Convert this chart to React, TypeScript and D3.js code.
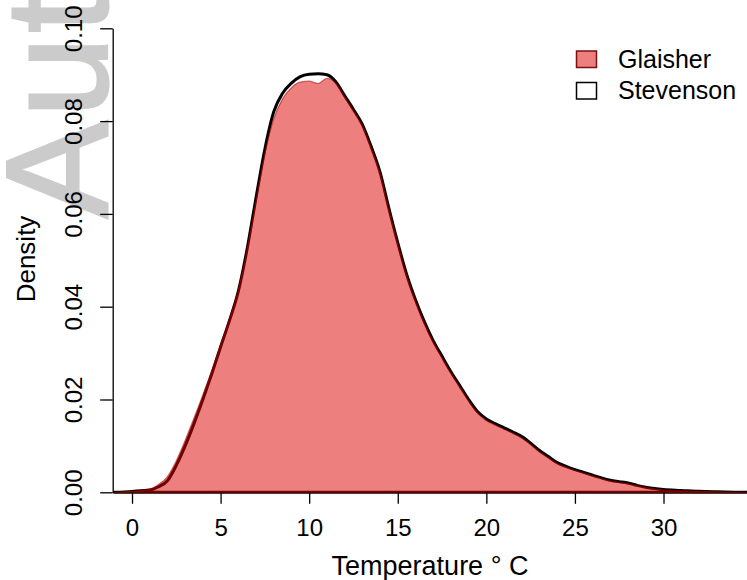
import React, { useRef, useEffect } from 'react'
import * as d3 from 'd3'

// temperature grid (°C) and density readings for the two series
const temps = [-1, 0, 1, 1.5, 2, 2.5, 3, 3.5, 4, 4.5, 5, 5.5, 6, 6.5, 7, 7.5, 8, 8.5, 9, 9.5, 10, 10.5, 11, 11.5, 12, 12.5, 13, 13.5, 14, 14.5, 15, 15.5, 16, 16.5, 17, 17.5, 18, 18.5, 19, 19.5, 20, 20.5, 21, 21.5, 22, 22.5, 23, 23.5, 24, 24.5, 25, 25.5, 26, 26.5, 27, 27.5, 28, 28.5, 29, 29.5, 30, 31, 32, 33, 34.7]

const stevenson = [0, 0.0002, 0.0005, 0.0012, 0.0025, 0.0058, 0.0100, 0.0148, 0.0200, 0.0255, 0.0313, 0.0370, 0.0433, 0.0525, 0.0635, 0.0740, 0.0820, 0.0860, 0.0882, 0.0896, 0.0901, 0.0902, 0.0900, 0.0885, 0.0855, 0.0825, 0.0793, 0.0745, 0.0690, 0.0612, 0.0538, 0.0470, 0.0415, 0.0368, 0.0327, 0.0293, 0.0260, 0.0230, 0.0200, 0.0174, 0.0158, 0.0148, 0.0139, 0.0130, 0.0120, 0.0106, 0.0090, 0.0077, 0.0064, 0.0056, 0.0049, 0.0043, 0.0037, 0.0031, 0.0026, 0.0023, 0.0020, 0.0015, 0.0011, 0.0008, 0.0006, 0.0004, 0.0002, 0.0001, 0]

const glaisher = [0, 0.0002, 0.0007, 0.0017, 0.0034, 0.0068, 0.0112, 0.0160, 0.0210, 0.0262, 0.0318, 0.0374, 0.0436, 0.0524, 0.0628, 0.0730, 0.0805, 0.0848, 0.0872, 0.0884, 0.0886, 0.0881, 0.0892, 0.0882, 0.0852, 0.0822, 0.0790, 0.0742, 0.0687, 0.0609, 0.0535, 0.0467, 0.0412, 0.0365, 0.0324, 0.0290, 0.0257, 0.0227, 0.0197, 0.0171, 0.0155, 0.0145, 0.0136, 0.0127, 0.0117, 0.0103, 0.0087, 0.0074, 0.0062, 0.0054, 0.0047, 0.0041, 0.0035, 0.0029, 0.0024, 0.0021, 0.0018, 0.0014, 0.0010, 0.0007, 0.0005, 0.0003, 0.0002, 0.0001, 0]

const xTicks = [0, 5, 10, 15, 20, 25, 30]
const yTicks = [0, 0.02, 0.04, 0.06, 0.08, 0.1]

const font = '"Liberation Sans", Arial, Helvetica, sans-serif'

export default function App() {
  const svgRef = useRef<SVGSVGElement>(null)

  useEffect(() => {
    const width = 747
    const height = 580
    const svg = d3.select(svgRef.current)
    svg.selectAll('*').remove()
    svg.attr('viewBox', `0 0 ${width} ${height}`)

    const x = d3.scaleLinear().domain([-1.09, 34.6]).range([112.7, 745])
    const y = d3.scaleLinear().domain([0, 0.1]).range([492.3, 28.3])

    // watermark behind the plot (runs off the top edge, as in the source)
    svg.append('text')
      .attr('transform', 'translate(107,218) rotate(-90)')
      .attr('font-family', font)
      .attr('font-size', 145)
      .attr('letter-spacing', 4)
      .attr('fill', '#cbcbcb')
      .attr('stroke', '#cbcbcb')
      .attr('stroke-width', 3)
      .text('Author Manuscript')

    const area = d3.area<number>()
      .x((_, i) => x(temps[i]))
      .y0(y(0))
      .y1(d => y(d))
      .curve(d3.curveMonotoneX)

    // Stevenson outline, drawn first so the translucent fill tints it
    svg.append('path')
      .datum(stevenson)
      .attr('d', area)
      .attr('fill', 'none')
      .attr('stroke', '#000')
      .attr('stroke-width', 3)
      .attr('stroke-linejoin', 'round')

    svg.append('path')
      .datum(glaisher)
      .attr('d', area)
      .attr('fill', 'rgba(221,0,0,0.5)')
      .attr('stroke', 'rgba(170,0,0,0.55)')
      .attr('stroke-width', 1.2)

    const yAxis = svg.append('g')
      .attr('transform', `translate(${x.range()[0]},0)`)
      .call(d3.axisLeft(y).tickValues(yTicks).tickFormat(d3.format('.2f')).tickSize(12.5).tickSizeOuter(0))
    yAxis.selectAll('text')
      .attr('x', null)
      .attr('dy', null)
      .attr('transform', 'translate(-31,0) rotate(-90)')
      .attr('text-anchor', 'middle')

    const xAxis = svg.append('g')
      .attr('transform', `translate(0,${y(0)})`)
      .call(d3.axisBottom(x).tickValues(xTicks).tickFormat(d3.format('d')).tickSize(11.5).tickSizeOuter(0))
    xAxis.select('.domain').remove()
    xAxis.selectAll('text')
      .attr('y', 43.7)
      .attr('dy', null)

    svg.selectAll('.tick text')
      .attr('font-family', font)
      .attr('font-size', 24)
      .attr('fill', '#000')
    svg.selectAll('.tick line, .domain')
      .attr('stroke', '#000')
      .attr('stroke-width', 1.3)
  }, [])

  return (
    <div style={{ position: 'absolute', left: 0, top: 0 }}>
      <svg ref={svgRef} width={747} height={580} style={{ display: 'block' }} role="img" aria-label="Density of temperature for Glaisher and Stevenson">
      </svg>
      <svg width={747} height={580} style={{ position: 'absolute', left: 0, top: 0 }} fontFamily={font}>
        <text x={430} y={575} fontSize={27} textAnchor="middle">Temperature ° C</text>
        <text transform="translate(35,259) rotate(-90)" fontSize={26} textAnchor="middle">Density</text>
        <rect x={576.5} y={51} width={20} height={16.5} fill="#ee7f7f" stroke="#7a1010" strokeWidth={1.5} />
        <rect x={576.5} y={82.5} width={20} height={16.5} fill="#fff" stroke="#000" strokeWidth={1.5} />
        <text x={618} y={68.3} fontSize={25}>Glaisher</text>
        <text x={618} y={99.3} fontSize={25}>Stevenson</text>
      </svg>
    </div>
  )
}
